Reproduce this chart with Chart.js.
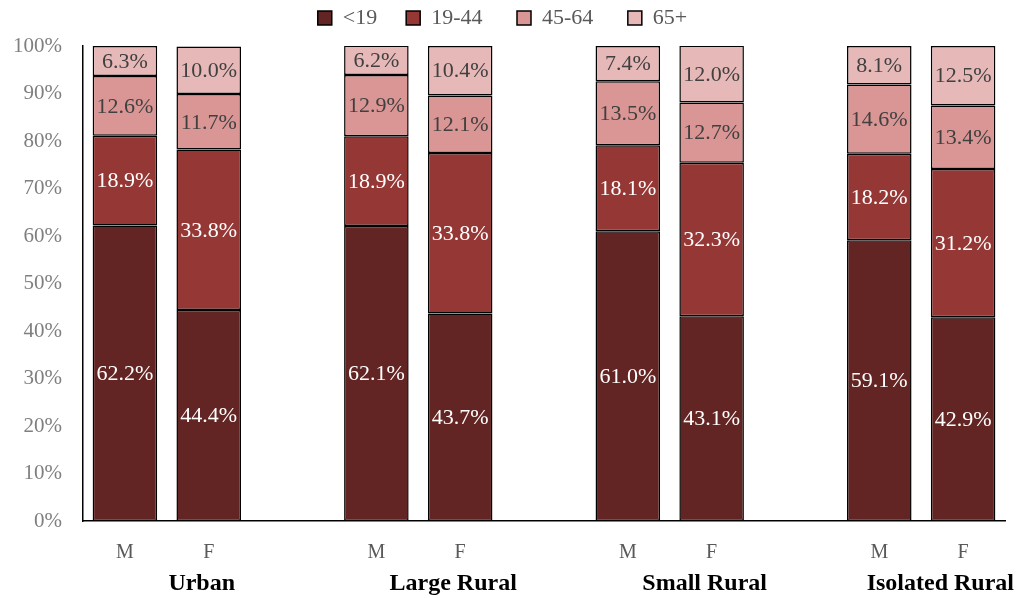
<!DOCTYPE html>
<html>
<head>
<meta charset="utf-8">
<script src="https://cdn.jsdelivr.net/npm/chart.js@4.4.1/dist/chart.umd.min.js"></script>
<style>
  html, body { margin: 0; padding: 0; background: #fff; }
  #wrap { width: 1017px; height: 598px; }
</style>
</head>
<body>
<div id="wrap"><canvas id="myChart" width="1017" height="598"></canvas></div>
<script>
// data
const regions = ["Urban", "Large Rural", "Small Rural", "Isolated Rural"];
const sexes = ["M", "F"];
const ageGroups = ["<19", "19-44", "45-64", "65+"];

// one value per bar: Urban M, Urban F, Large M, Large F, Small M, Small F, Isolated M, Isolated F
const under19 = [62.2, 44.4, 62.1, 43.7, 61.0, 43.1, 59.1, 42.9];
const age19to44 = [18.9, 33.8, 18.9, 33.8, 18.1, 32.3, 18.2, 31.2];
const age45to64 = [12.6, 11.7, 12.9, 12.1, 13.5, 12.7, 14.6, 13.4];
const age65plus = [6.3, 10.0, 6.2, 10.4, 7.4, 12.0, 8.1, 12.5];

const yTicks = [0, 10, 20, 30, 40, 50, 60, 70, 80, 90, 100];

const colors = ["#632523", "#953735", "#D99694", "#E6B9B8"];
const labelColors = ["#ffffff", "#ffffff", "#404040", "#404040"];
const serif = "'Liberation Serif', 'DejaVu Serif', serif";

// labels with an empty slot between regions
const labels = [];
const groupIndex = []; // where to put region name
regions.forEach((r, i) => {
  sexes.forEach((s) => labels.push(s));
  groupIndex.push(labels.length - 1);
  if (i < regions.length - 1) labels.push("");
});

function spread(arr) {
  const out = [];
  arr.forEach((v, i) => {
    out.push(v);
    if (i % 2 === 1 && i < arr.length - 1) out.push(null);
  });
  return out;
}

const seriesData = [under19, age19to44, age45to64, age65plus];

const datasets = ageGroups.map((name, i) => ({
  label: name,
  data: spread(seriesData[i]),
  backgroundColor: colors[i],
  borderColor: "#000000",
  borderWidth: 1.5,
  borderSkipped: false,
  categoryPercentage: 0.77,
  barPercentage: 1.0,
}));

// segment labels
const barLabels = {
  id: "barLabels",
  afterDatasetsDraw(chart) {
    const ctx = chart.ctx;
    ctx.save();
    ctx.font = "22px " + serif;
    ctx.textAlign = "center";
    ctx.textBaseline = "middle";
    chart.data.datasets.forEach((ds, i) => {
      const meta = chart.getDatasetMeta(i);
      meta.data.forEach((bar, j) => {
        const v = ds.data[j];
        if (v == null) return;
        ctx.fillStyle = labelColors[i];
        ctx.fillText(v.toFixed(1) + "%", bar.x, (bar.y + bar.base) / 2 + 1);
      });
    });
    ctx.restore();
  },
};

// region names under the M/F ticks
const groupLabels = {
  id: "groupLabels",
  afterDraw(chart) {
    const ctx = chart.ctx;
    const xScale = chart.scales.x;
    ctx.save();
    ctx.font = "bold 24px " + serif;
    ctx.fillStyle = "#000000";
    ctx.textAlign = "center";
    ctx.textBaseline = "middle";
    regions.forEach((r, i) => {
      let x = xScale.getPixelForValue(groupIndex[i]) - 7;
      const w = ctx.measureText(r).width;
      if (x + w / 2 > chart.width - 3) x = chart.width - 3 - w / 2;
      ctx.fillText(r, x, 584);
    });
    ctx.restore();
  },
};

const legendHeight = {
  id: "legendHeight",
  beforeInit(chart) {
    const fit = chart.legend.fit;
    chart.legend.fit = function () {
      fit.bind(chart.legend)();
      this.height = 46;
    };
  },
};

const ctx = document.getElementById("myChart");

const chart = new Chart(ctx, {
  type: "bar",
  data: {
    labels: labels,
    datasets: datasets,
  },
  plugins: [barLabels, groupLabels, legendHeight],
  options: {
    responsive: false,
    animation: false,
    layout: {
      padding: { left: 0, right: 12, top: 0, bottom: 0 },
    },
    plugins: {
      legend: {
        position: "top",
        labels: {
          boxWidth: 14,
          boxHeight: 14,
          padding: 7,
          color: "#595959",
          font: { family: serif, size: 22 },
          generateLabels(chart) {
            const items = Chart.defaults.plugins.legend.labels.generateLabels(chart);
            const pad = ["    ", "     ", "     ", ""];
            items.forEach((it, i) => {
              it.lineWidth = 1.5;
              it.text = it.text + pad[i];
            });
            return items;
          },
        },
      },
      tooltip: { enabled: false },
    },
    scales: {
      x: {
        stacked: true,
        grid: { display: false, drawTicks: false },
        border: { display: true, color: "#000000", width: 1.5 },
        ticks: {
          color: "#595959",
          padding: 20,
          font: { family: serif, size: 20 },
          autoSkip: false,
          maxRotation: 0,
        },
        afterFit(scale) {
          scale.height = 77;
        },
      },
      y: {
        stacked: true,
        min: 0,
        max: 100,
        grid: { display: false, drawTicks: false },
        border: { display: true, color: "#000000", width: 1.5 },
        afterBuildTicks(scale) {
          scale.ticks = yTicks.map((v) => ({ value: v }));
        },
        ticks: {
          color: "#7f7f7f",
          padding: 21,
          font: { family: serif, size: 21 },
          callback: (v) => v + "%",
        },
        afterFit(scale) {
          scale.width = 83;
        },
      },
    },
  },
});
</script>
</body>
</html>
